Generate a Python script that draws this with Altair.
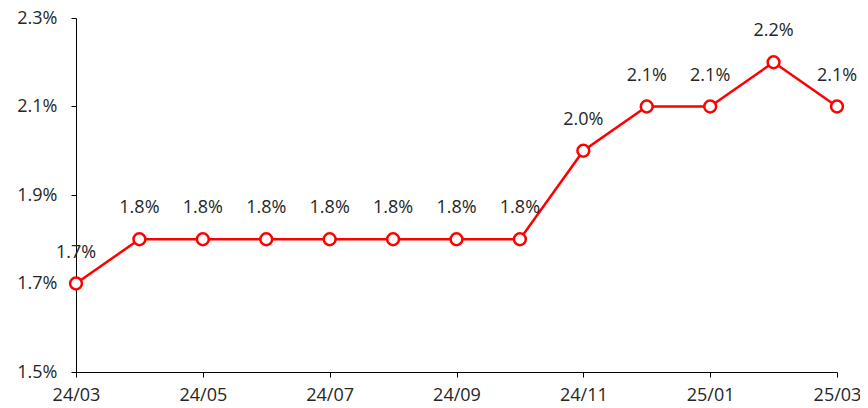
import altair as alt
import pandas as pd

months = ["24/03", "24/04", "24/05", "24/06", "24/07", "24/08", "24/09",
          "24/10", "24/11", "24/12", "25/01", "25/02", "25/03"]
values = [1.7, 1.8, 1.8, 1.8, 1.8, 1.8, 1.8, 1.8, 2.0, 2.1, 2.1, 2.2, 2.1]
x_ticks = ["24/03", "24/05", "24/07", "24/09", "24/11", "25/01", "25/03"]
y_ticks = [1.5, 1.7, 1.9, 2.1, 2.3]

df = pd.DataFrame({"month": months, "value": values})
df["label"] = [f"{v:.1f}%" for v in values]

FONT = "Open Sans"
TXT = "#262626"
FS = 18

x_enc = alt.X("month:O", sort=months,
              scale=alt.Scale(type="point", padding=0),
              axis=alt.Axis(values=x_ticks, title=None, labelAngle=0,
                            labelFontSize=FS, labelFont=FONT, labelColor=TXT,
                            domainColor="black", tickColor="black", tickSize=5,
                            labelPadding=9, grid=False))
y_enc = alt.Y("value:Q", scale=alt.Scale(domain=[1.5, 2.3], nice=False, zero=False),
              axis=alt.Axis(values=y_ticks, title=None, format=".1f",
                            labelExpr="format(datum.value, '.1f') + '%'",
                            labelFontSize=FS, labelFont=FONT, labelColor=TXT,
                            domainColor="black", tickColor="black", tickSize=5,
                            labelPadding=14, grid=False))

base = alt.Chart(df)
line = base.mark_line(color="#ff0000", strokeWidth=2.5).encode(x=x_enc, y=y_enc)
pts = base.mark_point(shape="circle", filled=True, fill="white", stroke="#ff0000",
                      strokeWidth=2.5, size=140, opacity=1).encode(x=x_enc, y=y_enc)
txt = base.mark_text(dy=-31, fontSize=FS, font=FONT, color=TXT).encode(
    x=x_enc, y=y_enc, text="label:N")

chart = (line + pts + txt).properties(
    width=761, height=354,
    autosize=alt.AutoSizeParams(type="none"),
    padding={"left": 68, "top": 10, "right": 23, "bottom": 34},
).configure(background="white", view=alt.ViewConfig(stroke=None))

chart.save("out.html", embed_options={"renderer": "svg", "actions": False})
